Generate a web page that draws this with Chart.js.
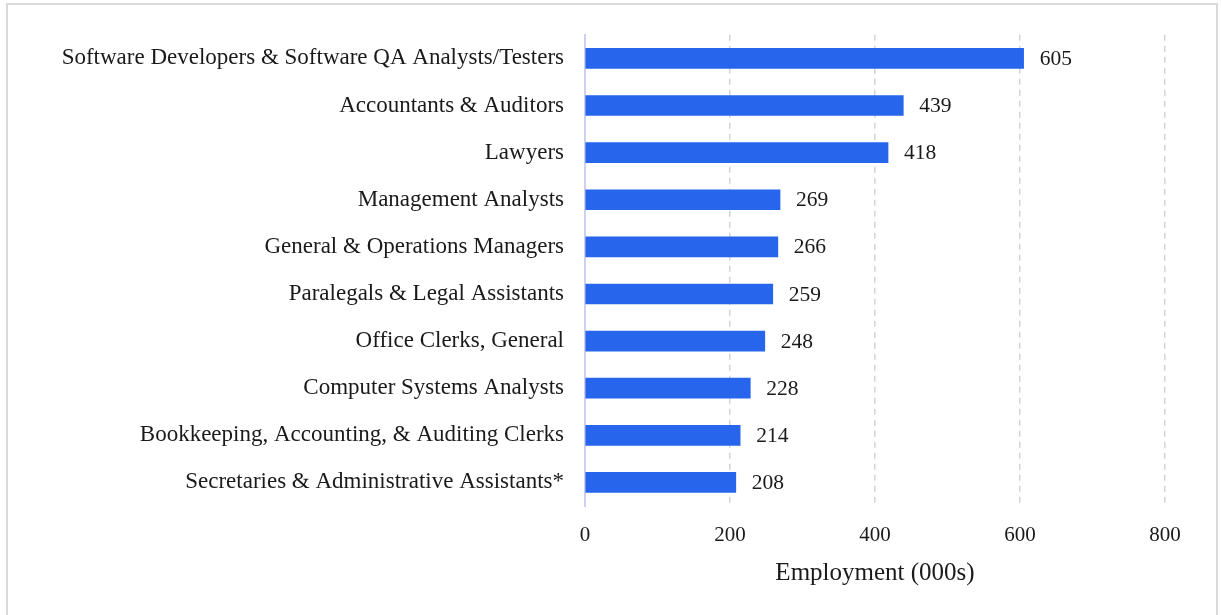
<!DOCTYPE html>
<html>
<head>
<meta charset="utf-8">
<script src="https://cdn.jsdelivr.net/npm/chart.js@4.4.0/dist/chart.umd.min.js"></script>
<style>
  html, body { margin: 0; padding: 0; background: #fff; overflow: hidden; }
  #frame {
    position: absolute; left: 6px; top: 3px; width: 1208px; height: 640px;
    border: 2px solid #dadada;
  }
  #wrap { position: absolute; left: 0; top: 0; width: 1221px; height: 615px; }
</style>
</head>
<body>
<div id="frame"></div>
<div id="wrap"><canvas id="chart"></canvas></div>
<script>
// Occupations and employment (thousands)
const occupations = [
    'Software Developers & Software QA Analysts/Testers',
    'Accountants & Auditors',
    'Lawyers',
    'Management Analysts',
    'General & Operations Managers',
    'Paralegals & Legal Assistants',
    'Office Clerks, General',
    'Computer Systems Analysts',
    'Bookkeeping, Accounting, & Auditing Clerks',
    'Secretaries & Administrative Assistants*'
];
const employment = [605, 439, 418, 269, 266, 259, 248, 228, 214, 208];
const xTicks = [0, 200, 400, 600, 800];

const fontFamily = "'Liberation Serif', 'Times New Roman', serif";
const textColor = '#1a1a1a';

// draw the value just past the end of each bar
const valueLabels = {
    id: 'valueLabels',
    afterDatasetsDraw(chart) {
        const ctx = chart.ctx;
        const meta = chart.getDatasetMeta(0);
        ctx.save();
        ctx.font = '21.5px ' + fontFamily;
        ctx.fillStyle = textColor;
        ctx.textAlign = 'left';
        ctx.textBaseline = 'middle';
        meta.data.forEach((bar, i) => {
            ctx.fillText(employment[i], bar.x + 16, bar.y + 1);
        });
        ctx.restore();
    }
};

new Chart(document.getElementById('chart'), {
    type: 'bar',
    data: {
        labels: occupations,
        datasets: [{
            data: employment,
            backgroundColor: '#2665ec',
            barThickness: 20
        }]
    },
    options: {
        indexAxis: 'y',
        responsive: true,
        maintainAspectRatio: false,
        animation: false,
        layout: { padding: { left: 0, right: 56, top: 33, bottom: 9 } },
        plugins: { legend: { display: false }, tooltip: { enabled: false } },
        scales: {
            x: {
                min: 0,
                max: 800,
                afterBuildTicks: (scale) => { scale.ticks = xTicks.map(v => ({ value: v })); },
                afterFit: (scale) => { scale.height = 100; },
                grid: {
                    drawTicks: false,
                    color: (c) => c.index === 0 ? 'rgba(0,0,0,0)' : '#d3d3d3',
                    lineWidth: 1.5
                },
                border: { display: false, dash: [6, 5] },
                ticks: {
                    padding: 17,
                    color: textColor,
                    font: { family: fontFamily, size: 21 }
                },
                title: {
                    display: true,
                    text: 'Employment (000s)',
                    color: textColor,
                    font: { family: fontFamily, size: 25 },
                    padding: { top: 0, bottom: 18 }
                }
            },
            y: {
                afterFit: (scale) => { scale.width = 585; },
                grid: { display: false, drawTicks: false },
                border: { display: true, color: '#cfcff3', width: 2 },
                ticks: {
                    padding: 21,
                    color: textColor,
                    font: { family: fontFamily, size: 23 }
                }
            }
        }
    },
    plugins: [valueLabels]
});
</script>
</body>
</html>
